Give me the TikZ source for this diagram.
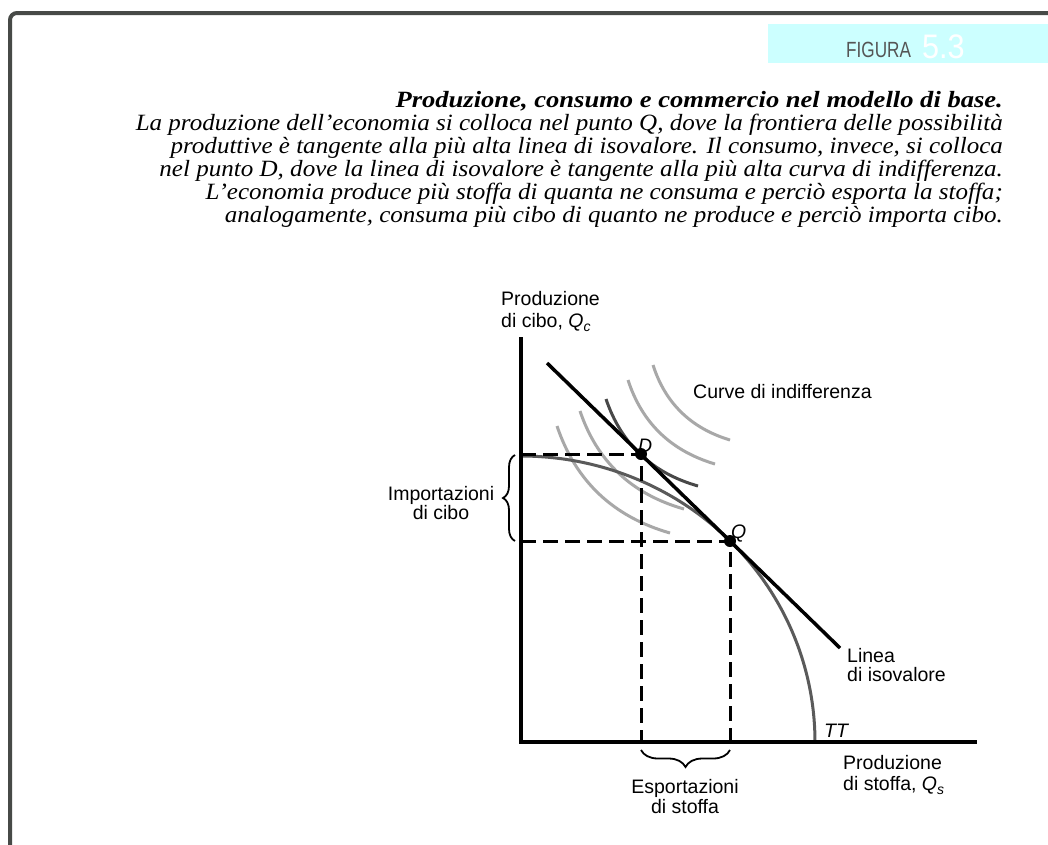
\documentclass[tikz,border=0pt]{standalone}
\usepackage{fontspec}
\setmainfont{Liberation Serif}
\setsansfont{Liberation Sans}
\usetikzlibrary{calc,decorations.pathreplacing}
\definecolor{framegray}{HTML}{474A47}
\definecolor{boxcyan}{HTML}{CCFFFF}
\definecolor{ttgray}{HTML}{5A5A5A}
\definecolor{icgray}{HTML}{A8A8A8}
\definecolor{icdark}{HTML}{484848}
\definecolor{figgray}{HTML}{555555}
\newcommand{\indiffcurve}[4]{%
  \coordinate (#4-s) at (#2);
  \coordinate (#4-e) at (#3);
  \coordinate (#4-c) at ($(#4-s)!0.56!-28:(#4-e)$);
  \draw[#1] (#4-s) .. controls ($(#4-s)!0.6667!(#4-c)$) and ($(#4-e)!0.6667!(#4-c)$) .. (#4-e);
}
\newcommand{\capline}[1]{\scalebox{1.075}[1]{#1}}
\begin{document}
\begin{tikzpicture}[x=1pt,y=-1pt,
  axisline/.style={line width=3.5pt, black},
  isoline/.style={line width=3.5pt, black},
  ttcurve/.style={line width=3pt, ttgray},
  icurve/.style={line width=3pt, icgray},
  icmain/.style={line width=3pt, icdark},
  guide/.style={line width=3pt, black, dash pattern=on 15pt off 7pt},
  brc/.style={line width=1.8pt, black, decorate, decoration={brace, amplitude=#1}},
  lbl/.style={font=\sffamily\fontsize{19.5}{20}\selectfont, inner sep=0pt, anchor=base west},
  lblc/.style={font=\sffamily\fontsize{19.5}{20}\selectfont, inner sep=0pt, anchor=base},
  ptlbl/.style={font=\sffamily\itshape\fontsize{19.5}{20}\selectfont, inner sep=0pt},
  captxt/.style={font=\itshape\fontsize{23.3}{23.3}\selectfont, inner sep=0pt, anchor=base east},
  dotnode/.style={circle, fill=black, minimum size=12pt, inner sep=0pt}
]
\useasboundingbox (0,0) rectangle (1048,844);
\fill[white] (0,0) rectangle (1048,844);
% frame
\draw[framegray, line width=4pt, rounded corners=7pt] (10,860) -- (10,13) -- (1060,13);
% figure tag
\fill[boxcyan] (768,24) rectangle (1060,63);
\node[inner sep=0pt, anchor=base west, text=figgray, font=\sffamily\fontsize{22}{22}\selectfont] (fig) at (846,57) {\scalebox{0.78}[1]{FIGURA}};
\node[inner sep=0pt, anchor=base west, text=white, font=\sffamily\fontsize{34}{34}\selectfont] (fignum) at (922,58) {\scalebox{0.9}[1]{5.3}};
% caption
\node[captxt] (cap1) at (1003,107) {\scalebox{1.14}[1]{\bfseries Produzione, consumo e commercio nel modello di base.}};
\node[captxt] (cap2) at (1003,130) {\capline{La produzione dell'economia si colloca nel punto Q, dove la frontiera delle possibilità}};
\node[captxt] (cap3) at (1003,153) {\capline{produttive è tangente alla più alta linea di isovalore. Il consumo, invece, si colloca}};
\node[captxt] (cap4) at (1003,176) {\capline{nel punto D, dove la linea di isovalore è tangente alla più alta curva di indifferenza.}};
\node[captxt] (cap5) at (1003,199) {\capline{L'economia produce più stoffa di quanta ne consuma e perciò esporta la stoffa;}};
\node[captxt] (cap6) at (1003,222) {\capline{analogamente, consuma più cibo di quanto ne produce e perciò importa cibo.}};
% key coordinates
\coordinate (O) at (521,742);
\coordinate (ytop) at (521,337);
\coordinate (xend) at (977,742);
\coordinate (isoA) at (547,363);
\coordinate (isoB) at (840,648);
\coordinate (Dy) at (521,454);
\coordinate (Qy) at (521,541);
\coordinate (Dx) at (641,742);
\coordinate (Qx) at (730,742);
% indifference curves
\indiffcurve{icurve}{557,426}{670,533}{ic1}
\indiffcurve{icurve}{580,411}{684,509}{ic2}
\indiffcurve{icurve}{628,380}{715,464}{ic4}
\indiffcurve{icurve}{653,365}{730,440}{ic5}
\indiffcurve{icmain}{606,399}{698,486}{ic3}
% transformation curve TT
\draw[ttcurve] plot[domain=90:0, samples=60, smooth] ({521+294*cos(\x)},{742-286*sin(\x)});
% dashed guides
\node[dotnode] (D) at (641,454) {};
\node[dotnode] (Q) at (730,541) {};
\draw[guide] (Dy) -- (D.center) -- (Dx);
\draw[guide] (Qy) -- (Q.center) -- (Qx);
% isovalue line
\draw[isoline] (isoA) -- (isoB);
% axes
\draw[axisline] ($(ytop)$) -- ($(O)+(0,2)$);
\draw[axisline] ($(O)+(-1.75,0)$) -- (xend);
% braces
\draw[brc=12pt] (515,541) -- (515,455);
\draw[brc=17pt] (730,750) -- (641,750);
% labels
\node[ptlbl, anchor=base west] (Dl) at (638,452) {D};
\node[ptlbl, anchor=base west] (Ql) at (731,538) {Q};
\node[ptlbl, anchor=base west] (TTl) at (824,737) {TT};
\node[lbl] (yl1) at (501,305) {Produzione};
\node[lbl] (yl2) at (501,327) {di cibo, \textit{Q}\raisebox{-4pt}{\fontsize{14}{14}\selectfont\textit{c}}};
\node[lbl] (icl) at (693,398) {Curve di indifferenza};
\node[lblc] (im1) at (441,500) {Importazioni};
\node[lblc] (im2) at (441,519) {di cibo};
\node[lbl] (li1) at (847,662) {Linea};
\node[lbl] (li2) at (847,681) {di isovalore};
\node[lblc] (es1) at (685,793) {Esportazioni};
\node[lblc] (es2) at (685,813) {di stoffa};
\node[lbl] (xl1) at (843,769) {Produzione};
\node[lbl] (xl2) at (843,790) {di stoffa, \textit{Q}\raisebox{-4pt}{\fontsize{14}{14}\selectfont\textit{s}}};
\end{tikzpicture}
\end{document}
